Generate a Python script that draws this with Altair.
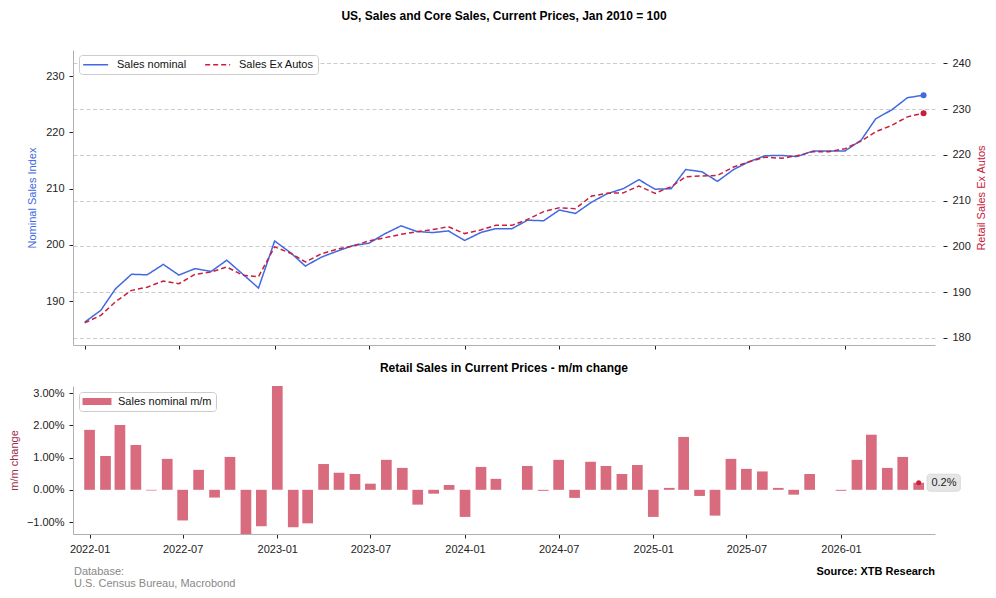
import altair as alt
import pandas as pd

# Monthly observations, Jan 2022 - Jun 2026
months = pd.date_range("2022-01-01", periods=54, freq="MS").strftime("%Y-%m-%d").tolist()

# Retail sales index, Jan 2010 = 100
sales_nominal = [
    186.3, 188.4, 192.2, 194.8, 194.7, 196.55, 194.65, 195.8, 195.3, 197.3,
    194.8, 192.35, 200.7, 198.6, 196.25, 197.85, 198.9, 199.9, 200.3, 202.0,
    203.4, 202.4, 202.2, 202.5, 200.8, 202.2, 202.9, 202.9, 204.4, 204.3,
    206.2, 205.6, 207.6, 209.1, 210.0, 211.6, 209.9, 210.0, 213.4, 213.0,
    211.3, 213.4, 214.8, 215.85, 215.9, 215.7, 216.7, 216.7, 216.7, 218.6,
    222.4, 224.0, 226.15, 226.6,
]
sales_ex_autos = [
    183.3, 184.95, 187.9, 190.4, 191.1, 192.45, 191.85, 193.9, 194.4, 195.5,
    193.7, 193.4, 199.9, 198.5, 196.6, 198.4, 199.4, 200.1, 201.2, 201.9,
    202.65, 203.2, 203.7, 204.3, 202.8, 203.6, 204.6, 204.6, 205.9, 207.6,
    208.45, 208.25, 211.0, 211.6, 211.7, 213.2, 211.6, 213.05, 215.2, 215.4,
    215.5, 217.35, 218.5, 219.5, 219.25, 219.8, 220.7, 220.7, 221.35, 223.0,
    225.05, 226.45, 228.3, 229.1,
]
# Month-on-month change of nominal sales, %
sales_mm = [
    1.86, 1.05, 2.01, 1.39, -0.02, 0.96, -0.95, 0.62, -0.24, 1.02,
    -1.37, -1.13, 3.22, -1.16, -1.04, 0.80, 0.53, 0.49, 0.19, 0.93,
    0.68, -0.46, -0.12, 0.15, -0.84, 0.71, 0.34, 0.00, 0.74, -0.03,
    0.93, -0.25, 0.87, 0.74, 0.49, 0.77, -0.84, 0.06, 1.64, -0.19,
    -0.80, 0.96, 0.65, 0.57, 0.06, -0.15, 0.49, 0.00, -0.03, 0.93,
    1.71, 0.68, 1.02, 0.22,
]

series_names = ["Sales nominal", "Sales Ex Autos"]
mm_name = "Sales nominal m/m"

BLUE = "#4169E1"
RED = "#C8203C"
BAR = "#D96B7E"
MAROON = "#9B2C48"
FONT = "Liberation Sans"
LAST = len(months) - 1

top_df = pd.DataFrame({
    "date": months * 2,
    "n": list(range(len(months))) * 2,
    "series": [series_names[0]] * len(months) + [series_names[1]] * len(months),
    "value": sales_nominal + sales_ex_autos,
})
mm_df = pd.DataFrame({
    "date": months,
    "n": list(range(len(months))),
    "series": mm_name,
    "value": sales_mm,
})

x_domain = [
    alt.DateTime(year=2021, month=12, date=9, hours=12, utc=True),
    alt.DateTime(year=2026, month=6, date=23, utc=True),
]
tick_dates = [alt.DateTime(year=y, month=m, date=1, utc=True)
              for y in range(2022, 2027) for m in (1, 7)][:-1]


def x_enc(show_labels):
    return alt.X(
        "date:T",
        scale=alt.Scale(type="utc", domain=x_domain),
        axis=alt.Axis(values=tick_dates, labelExpr="utcFormat(datum.value, '%Y-%m')",
                      labels=show_labels, title=None, grid=False, labelPadding=5),
    )


# ---------- upper panel: two index lines on twin axes ----------
# A long, thin legend glyph: small nominal symbol size keeps the legend row compact,
# the path itself reaches further to the right.
line_legend = alt.Legend(
    title=None, orient="none", legendX=6, legendY=5, direction="horizontal",
    symbolType="M-1.23,0H4.54", symbolSize=75, symbolStrokeWidth=1.5,
    labelFontSize=11, labelOffset=23, columnPadding=15, padding=4,
    fillColor="white", strokeColor="#cccccc", cornerRadius=3,
)
color_enc = alt.Color("series:N", scale=alt.Scale(domain=series_names, range=[BLUE, RED]),
                      legend=line_legend)
dash_enc = alt.StrokeDash("series:N", scale=alt.Scale(domain=series_names, range=[[1, 0], [5, 3]]),
                          legend=line_legend)

y_left = alt.Y(
    "value:Q",
    scale=alt.Scale(domain=[182.24, 234.62], nice=False, zero=False),
    axis=alt.Axis(orient="left", values=[190, 200, 210, 220, 230], grid=False,
                  title="Nominal Sales Index", titleColor=BLUE, titleX=-41,
                  titleBaseline="middle", labelPadding=5),
)
y_right = alt.Y(
    "value:Q",
    scale=alt.Scale(domain=[178.47, 242.9], nice=False, zero=False),
    axis=alt.Axis(orient="right", values=list(range(180, 241, 10)), grid=True,
                  gridDash=[4, 2.5], gridColor="#cccccc", gridWidth=1, domain=False,
                  offset=8, title="Retail Sales Ex Autos", titleColor=RED, titleAngle=270,
                  titleX=38, titleBaseline="middle", labelPadding=5),
)

nom = alt.Chart(top_df).transform_filter(alt.datum.series == series_names[0])
exa = alt.Chart(top_df).transform_filter(alt.datum.series == series_names[1])

nom_layer = alt.layer(
    nom.mark_line(strokeWidth=1.5).encode(x=x_enc(False), y=y_left, color=color_enc, strokeDash=dash_enc),
    nom.transform_filter(alt.datum.n == LAST).mark_circle(size=36, color=BLUE, opacity=1)
       .encode(x=x_enc(False), y=y_left),
)
exa_layer = alt.layer(
    exa.mark_line(strokeWidth=1.5).encode(x=x_enc(False), y=y_right, color=color_enc, strokeDash=dash_enc),
    exa.transform_filter(alt.datum.n == LAST).mark_circle(size=36, color=RED, opacity=1)
       .encode(x=x_enc(False), y=y_right),
)

top = alt.layer(nom_layer, exa_layer).resolve_scale(y="independent").properties(width=862, height=295)

# ---------- lower panel: m/m change bars ----------
y_mm = alt.Y(
    "value:Q",
    scale=alt.Scale(domain=[-1.37, 3.22], nice=False, zero=False),
    axis=alt.Axis(values=[-1, 0, 1, 2, 3], grid=False,
                  labelExpr="format(datum.value, '.2f') + '%'",
                  title="m/m change", titleColor=MAROON, titleX=-59,
                  titleBaseline="middle", labelPadding=5),
)
bar_legend = alt.Legend(
    title=None, orient="none", legendX=6, legendY=6,
    symbolType="M-1.5,-0.875H5.75V0.875H-1.5Z", symbolSize=64, symbolStrokeWidth=0,
    symbolOpacity=1, labelFontSize=11, labelOffset=24, padding=4,
    fillColor="white", strokeColor="#cccccc", cornerRadius=3,
)

mm = alt.Chart(mm_df)
bars = mm.mark_bar(size=10.7, clip=True).encode(
    x=x_enc(True), y=y_mm,
    color=alt.Color("series:N", scale=alt.Scale(domain=[mm_name], range=[BAR]), legend=bar_legend),
)
last = mm.transform_filter(alt.datum.n == LAST).transform_calculate(
    label="format(datum.value, '.1f') + '%'"
)
badge = last.mark_rect(fill="#e6e6e6", stroke="#d6d6d6", strokeWidth=0.8, cornerRadius=3,
                       xOffset=8.4, x2Offset=41.7, yOffset=-8.5, y2Offset=8.5).encode(
    x=x_enc(True), x2="date:T", y=y_mm, y2="value:Q")
badge_text = last.mark_text(align="left", baseline="middle", dx=12.7, fontSize=11,
                            font=FONT, color="#222222").encode(
    x=x_enc(True), y=y_mm, text="label:N")
badge_dot = last.mark_circle(size=25, color=RED, opacity=1).encode(x=x_enc(True), y=y_mm)

footer_left = alt.Chart(pd.DataFrame({"t": ["Database:\nU.S. Census Bureau, Macrobond"]})).mark_text(
    align="left", baseline="top", lineBreak="\n", lineHeight=12, fontSize=11, font=FONT,
    color="#888888").encode(x=alt.value(1), y=alt.value(180), text="t:N")
footer_right = alt.Chart(pd.DataFrame({"t": ["Source: XTB Research"]})).mark_text(
    align="right", baseline="middle", fontSize=11, fontWeight="bold", font=FONT,
    color="#000000").encode(x=alt.value(862), y=alt.value(186), text="t:N")

bottom = alt.layer(bars, badge, badge_text, badge_dot, footer_left, footer_right).properties(
    width=862, height=148,
    title=alt.TitleParams("Retail Sales in Current Prices - m/m change", fontSize=12,
                          fontWeight="bold", anchor="middle", frame="group", offset=11),
)

chart = alt.vconcat(top, bottom, spacing=41, bounds="flush").resolve_scale(
    color="independent", strokeDash="independent"
).resolve_legend(
    color="independent", strokeDash="independent"
).properties(
    title=alt.TitleParams("US, Sales and Core Sales, Current Prices, Jan 2010 = 100",
                          fontSize=12, fontWeight="bold", anchor="middle", frame="group", offset=27),
    padding={"left": 8, "right": 8, "top": 10, "bottom": 8},
).configure(font=FONT).configure_view(stroke=None).configure_axis(
    labelFontSize=11, titleFontSize=11, titleFontWeight="normal", labelColor="#222222",
    tickColor="#222222", domainColor="#b0b0b0", tickSize=4,
).configure_legend(labelColor="#111111")

chart.save("out.html", embed_options={"renderer": "svg", "actions": False})
